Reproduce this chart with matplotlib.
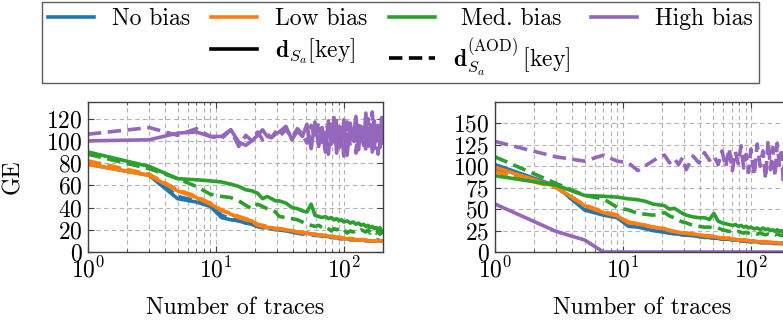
import matplotlib
matplotlib.use("Agg")
import matplotlib.pyplot as plt
from matplotlib.lines import Line2D
from matplotlib.ticker import LogLocator, NullFormatter

plt.rcParams["font.family"] = "serif"
plt.rcParams["font.serif"] = ["cmr10", "DejaVu Serif"]
plt.rcParams["mathtext.fontset"] = "cm"
plt.rcParams["axes.formatter.use_mathtext"] = True

# number of traces (shared x for all series)
traces = [1, 3, 5, 7, 9, 11, 13, 15, 17, 19,
          21, 23, 25, 27, 29, 31, 35, 39, 43, 47,
          51, 55, 59, 63, 67, 71, 75, 79, 83, 87,
          91, 95, 99, 105, 111, 117, 123, 129, 135, 141,
          147, 153, 159, 165, 171, 177, 183, 189, 195, 199]

# ---- left panel: GE with d_Sa[key] (solid) and d_Sa^(AOD)[key] (dashed)
left_no_key = [79, 69, 48, 45, 41, 31, 29, 28, 26, 25,
               23, 22, 22, 21, 21, 20, 19, 18, 17, 16,
               17, 16, 15, 15, 15, 14, 14, 14, 13, 13,
               13, 12, 12, 12, 12, 11, 11, 11, 11, 11,
               10, 10, 10, 10, 10, 10, 11, 10, 10, 10]
left_no_aod = [80, 70, 50, 46, 42, 33, 30, 28, 27, 25,
               23, 22, 22, 21, 20, 20, 19, 18, 17, 17,
               16, 16, 15, 15, 14, 14, 14, 13, 13, 13,
               12, 12, 12, 12, 11, 11, 11, 11, 11, 10,
               10, 10, 10, 10, 10, 10, 10, 10, 10, 10]
left_low_key = [79, 69, 55, 49, 43, 38, 34, 31, 29, 28,
                24, 23, 22, 22, 21, 21, 20, 19, 18, 17,
                17, 16, 16, 15, 15, 15, 14, 14, 14, 13,
                13, 13, 12, 12, 12, 12, 11, 11, 11, 11,
                11, 10, 10, 10, 10, 10, 10, 10, 10, 10]
left_low_aod = [82, 70, 56, 50, 44, 37, 35, 32, 30, 28,
                25, 24, 23, 22, 21, 21, 20, 19, 18, 18,
                17, 16, 16, 15, 15, 14, 14, 14, 13, 13,
                13, 13, 12, 12, 12, 11, 11, 11, 11, 11,
                10, 10, 10, 10, 10, 10, 10, 10, 10, 10]
left_med_key = [90, 77, 66, 65, 64, 63, 61, 59, 56, 55,
                53, 48, 50, 48, 46, 46, 44, 40, 39, 37,
                36, 43, 33, 32, 31, 32, 30, 31, 29, 30,
                28, 29, 27, 28, 26, 27, 25, 26, 24, 25,
                23, 24, 22, 23, 21, 22, 20, 22, 19, 18]
left_med_aod = [88, 75, 66, 59, 52, 50, 49, 46, 42, 39,
                43, 41, 39, 38, 36, 32, 31, 30, 29, 27,
                25, 24, 23, 24, 22, 23, 21, 19, 21, 20,
                21, 19, 20, 17, 19, 18, 19, 18, 20, 19,
                18, 20, 17, 19, 18, 17, 19, 16, 18, 17]
left_high_key = [100, 101, 107, 108, 104, 104, 110, 99, 96, 100,
                 105, 110, 104, 103, 106, 108, 113, 101, 109, 104,
                 115, 93, 117, 95, 112, 90, 118, 97, 121, 89,
                 113, 96, 119, 87, 116, 100, 122, 92, 113, 96,
                 125, 95, 112, 90, 118, 100, 114, 94, 121, 100]
left_high_aod = [106, 112, 105, 111, 104, 102, 110, 95, 105, 100,
                 108, 101, 106, 103, 108, 104, 110, 103, 111, 106,
                 98, 114, 102, 117, 96, 111, 88, 115, 99, 120,
                 94, 112, 85, 117, 95, 114, 89, 118, 98, 110,
                 91, 120, 97, 126, 93, 111, 88, 115, 96, 112]

# ---- right panel
right_no_key = [102, 77, 49, 43, 40, 30, 29, 27, 25, 24,
                23, 22, 21, 21, 20, 20, 19, 18, 17, 17,
                16, 16, 15, 15, 15, 14, 14, 14, 13, 13,
                13, 12, 12, 12, 12, 11, 11, 11, 11, 11,
                10, 10, 10, 10, 10, 10, 10, 10, 10, 10]
right_no_aod = [96, 76, 50, 45, 41, 32, 30, 28, 26, 25,
                24, 22, 22, 21, 20, 20, 19, 18, 18, 17,
                16, 16, 15, 15, 15, 14, 14, 14, 13, 13,
                13, 13, 12, 12, 12, 11, 11, 11, 11, 11,
                10, 10, 10, 10, 10, 10, 10, 10, 10, 10]
right_low_key = [99, 76, 54, 46, 42, 34, 33, 31, 29, 28,
                 27, 25, 24, 23, 22, 22, 21, 20, 19, 18,
                 18, 17, 16, 16, 16, 15, 15, 14, 14, 14,
                 14, 13, 13, 13, 12, 12, 12, 12, 11, 11,
                 11, 11, 11, 10, 10, 10, 10, 10, 10, 10]
right_low_aod = [94, 75, 55, 47, 43, 35, 33, 31, 29, 29,
                 27, 25, 24, 23, 22, 22, 21, 20, 19, 19,
                 18, 17, 17, 16, 16, 15, 15, 15, 14, 14,
                 14, 13, 13, 13, 12, 12, 12, 12, 11, 11,
                 11, 11, 11, 11, 10, 10, 10, 10, 10, 10]
right_med_key = [89, 78, 66, 65, 64, 62, 61, 59, 56, 55,
                 54, 50, 51, 48, 45, 43, 41, 40, 40, 38,
                 45, 36, 34, 33, 32, 31, 32, 30, 31, 29,
                 30, 28, 29, 27, 28, 26, 28, 26, 27, 25,
                 26, 24, 26, 24, 25, 23, 24, 22, 23, 22]
right_med_aod = [111, 80, 66, 62, 52, 49, 45, 44, 43, 44,
                 46, 42, 40, 37, 35, 34, 31, 30, 29, 29,
                 28, 28, 26, 25, 24, 24, 23, 24, 23, 22,
                 23, 22, 21, 22, 21, 22, 21, 20, 21, 20,
                 21, 20, 21, 20, 19, 20, 20, 19, 20, 20]
right_high_key = [56, 24, 14, 0, 0, 0, 0, 0, 0, 0,
                  0, 0, 0, 0, 0, 0, 0, 0, 0, 0,
                  0, 0, 0, 0, 0, 0, 0, 0, 0, 0,
                  0, 0, 0, 0, 0, 0, 0, 0, 0, 0,
                  0, 0, 0, 0, 0, 0, 0, 0, 0, 0]
right_high_aod = [129, 111, 106, 113, 106, 104, 95, 101, 106, 111,
                  113, 104, 109, 102, 110, 96, 112, 104, 116, 107,
                  112, 102, 118, 99, 121, 95, 117, 103, 124, 98,
                  114, 93, 120, 89, 126, 100, 118, 85, 130, 96,
                  122, 88, 127, 101, 116, 84, 124, 97, 119, 105]

bias_names = ["No bias", "Low bias", "Med. bias", "High bias"]
colors = ["#1f77b4", "#ff7f0e", "#2ca02c", "#9467bd"]

left = [(left_no_key, left_no_aod), (left_low_key, left_low_aod),
        (left_med_key, left_med_aod), (left_high_key, left_high_aod)]
right = [(right_no_key, right_no_aod), (right_low_key, right_low_aod),
         (right_med_key, right_med_aod), (right_high_key, right_high_aod)]

FS = 17
LW = 2.6
DASH = (0, (3.7, 1.8))
W, H = 783, 321

fig = plt.figure(figsize=(W / 100, H / 100), dpi=100)
ax1 = fig.add_axes([88 / W, 69 / H, 295 / W, 150 / H])
ax2 = fig.add_axes([495 / W, 69 / H, 295 / W, 150 / H])

for ax, series, ymax, yticks in [
    (ax1, left, 135, [0, 20, 40, 60, 80, 100, 120]),
    (ax2, right, 175, [0, 25, 50, 75, 100, 125, 150]),
]:
    for (key, aod), c in zip(series, colors):
        ax.plot(traces, key, color=c, lw=LW)
        ax.plot(traces, aod, color=c, lw=LW, ls=DASH)
    ax.set_xscale("log")
    ax.set_xlim(1, 200)
    ax.set_ylim(0, ymax)
    ax.set_yticks(yticks)
    ax.xaxis.set_minor_locator(LogLocator(base=10, subs=range(2, 10), numticks=20))
    ax.xaxis.set_minor_formatter(NullFormatter())
    ax.grid(which="major", color="#b3b3b3", ls=(0, (4, 3)), lw=0.8)
    ax.grid(which="minor", axis="x", color="#b3b3b3", ls=(0, (4, 3)), lw=0.8)
    ax.set_axisbelow(True)
    ax.tick_params(which="both", direction="in", top=True, right=True,
                   labelsize=FS, color="#404040")
    ax.tick_params(which="major", length=4, width=0.8, pad=4)
    ax.tick_params(which="minor", length=2.5, width=0.6)
    for s in ax.spines.values():
        s.set_color("#404040")
        s.set_linewidth(1.0)
    ax.set_xlabel("Number of traces", fontsize=FS, labelpad=10)

ax1.set_ylabel("GE", fontsize=FS, labelpad=16)

# legend: colour rows on top, line style entries under columns 2 and 3
blank = Line2D([], [], color="none")
h_col = [Line2D([], [], color=c, lw=LW) for c in colors]
h_key = Line2D([], [], color="black", lw=LW)
h_aod = Line2D([], [], color="black", lw=LW, ls=DASH)
handles = [h_col[0], blank, h_col[1], h_key, h_col[2], h_aod, h_col[3], blank]
labels = [bias_names[0], "", bias_names[1], r"$\mathbf{d}_{S_a}$[key]",
          " " + bias_names[2], r"$\mathbf{d}_{S_a}^{(\mathrm{AOD})}\,$[key]",
          bias_names[3], ""]
leg = fig.legend(handles, labels, ncol=4, loc="upper left",
                 bbox_to_anchor=(42 / W, 1 - 2 / H),
                 fontsize=FS, frameon=True, fancybox=False,
                 edgecolor="#333333", handlelength=1.95, handletextpad=0.76,
                 columnspacing=0.9, labelspacing=0.25, borderpad=0.25,
                 borderaxespad=0)
leg.get_frame().set_linewidth(1.0)

fig.savefig("out.png", dpi=100)
